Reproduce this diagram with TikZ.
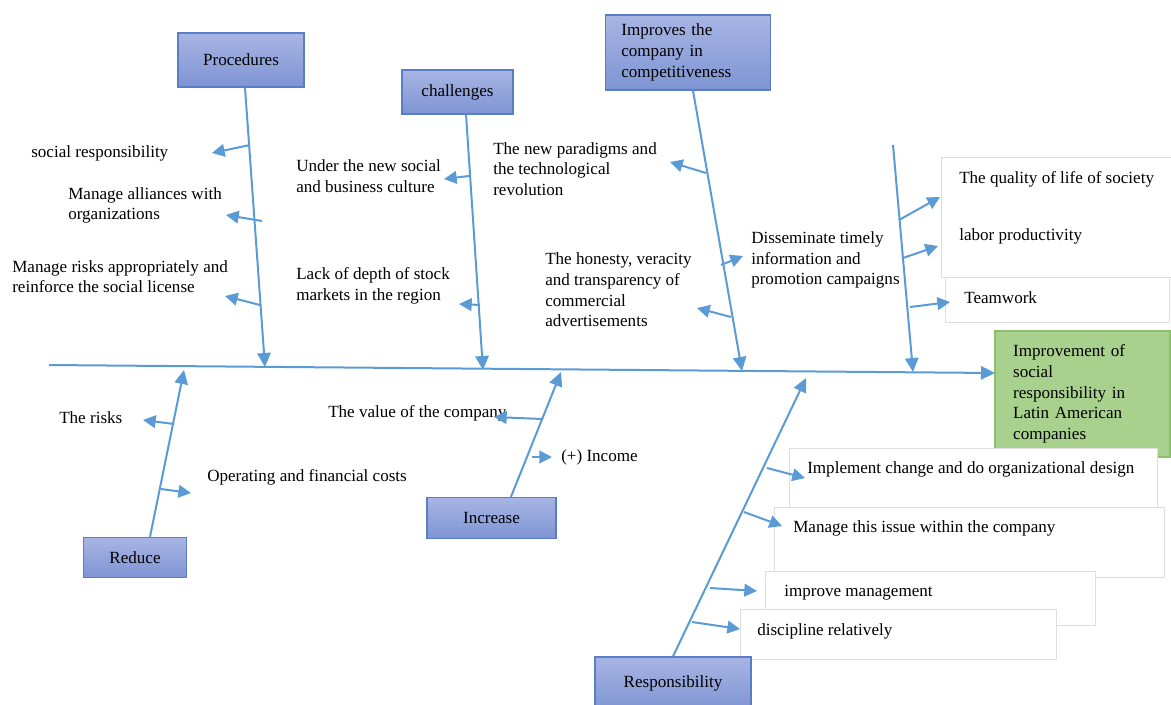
\documentclass[tikz,border=0pt]{standalone}
\usepackage{fontspec}
\setmainfont{Liberation Serif}
\usetikzlibrary{arrows.meta}
\definecolor{bone}{RGB}{91,155,213}
\definecolor{boxtop}{RGB}{168,181,228}
\definecolor{boxbot}{RGB}{126,148,211}
\definecolor{boxline}{RGB}{90,125,200}
\definecolor{effgreen}{RGB}{169,209,142}
\definecolor{effline}{RGB}{140,190,110}
\definecolor{paneline}{RGB}{222,222,222}
\begin{document}
\begin{tikzpicture}[x=0.75pt,y=-0.75pt,
  font=\fontsize{12.8}{15.5}\selectfont,
  catbox/.style={draw=boxline, line width=1pt, top color=boxtop, bottom color=boxbot, inner sep=0pt, align=center},
  lbl/.style={anchor=west, inner sep=0pt, align=left},
  bonel/.style={draw=bone, line width=1.5pt, -{Triangle[length=10.5pt,width=10pt]}},
  branch/.style={draw=bone, line width=1.5pt, -{Triangle[length=9.5pt,width=9.5pt]}},
  panel/.style={draw=paneline, fill=white, line width=0.6pt, inner sep=0pt, anchor=north west}]

\useasboundingbox (0,0) rectangle (1171,704);

% effect box
\node[draw=effline, fill=effgreen, line width=1pt, minimum width=131.25pt, minimum height=94.5pt,
      text width=104pt, align=left, inner sep=0pt] (eff) at (1082.5,394)
      {Improvement of\\social\\responsibility in\\Latin American\\companies};

% panels
\node[panel, minimum width=173pt, minimum height=90pt] (panA) at (941,157) {};
\node[panel, minimum width=168pt, minimum height=33.75pt] (panB) at (945,277) {};
\node[panel, minimum width=276pt, minimum height=44.25pt] (panC) at (789,448) {};
\node[panel, minimum width=292.5pt, minimum height=52.5pt] (panD) at (774,507) {};
\node[panel, minimum width=247.5pt, minimum height=40.5pt] (panE) at (765,571) {};
\node[panel, minimum width=237pt, minimum height=37.5pt] (panF) at (740,609) {};

% category boxes
\node[catbox, minimum width=94.5pt, minimum height=40.5pt] (proc) at (241,60) {Procedures};
\node[catbox, minimum width=83.25pt, minimum height=33pt] (chal) at (457.5,92) {challenges};
\node[catbox, minimum width=123.75pt, minimum height=56.25pt, align=left, text width=100pt] (impr) at (688,52.5)
  {Improves the\\company in\\competitiveness};
\node[catbox, minimum width=77.25pt, minimum height=30pt] (red) at (135,557.5) {Reduce};
\node[catbox, minimum width=96.75pt, minimum height=30.75pt] (inc) at (491.5,518) {Increase};
\node[catbox, minimum width=117pt, minimum height=40pt] (resp) at (673,683.7) {Responsibility};

% labels
\node[lbl] (t1) at (31,153) {social responsibility};
\node[lbl] (t2) at (68,205.5) {Manage alliances with\\organizations};
\node[lbl] (t3) at (12,276.5) {Manage risks appropriately and\\reinforce the social license};
\node[lbl] (t4) at (296,176) {Under the new social\\and business culture};
\node[lbl] (t5) at (296,286) {Lack of depth of stock\\markets in the region};
\node[lbl] (t6) at (493,169) {The new paradigms and\\the technological\\revolution};
\node[lbl] (t7) at (545,290) {The honesty, veracity\\and transparency of\\commercial\\advertisements};
\node[lbl] (t8) at (751,260) {Disseminate timely\\information and\\promotion campaigns};
\node[lbl] (t9) at (959,179) {The quality of life of society};
\node[lbl] (t10) at (959,236) {labor productivity};
\node[lbl] (t11) at (964,298) {Teamwork};
\node[lbl] (t12) at (59,418) {The risks};
\node[lbl] (t13) at (207,477) {Operating and financial costs};
\node[lbl] (t14) at (328,413) {The value of the company};
\node[lbl] (t15) at (561,457) {(+) Income};
\node[lbl] (t16) at (807,469) {Implement change and do organizational design};
\node[lbl] (t17) at (793,528) {Manage this issue within the company};
\node[lbl] (t18) at (784,593) {improve management};
\node[lbl] (t19) at (757,631) {discipline relatively};

% spine
\coordinate (tail) at (49,365);
\coordinate (head) at (995,373);
\draw[bonel] (tail) -- (head);

% bone end points
\coordinate (procT) at (265,367);
\coordinate (chalT) at (483,370);
\coordinate (imprT) at (742,371);
\coordinate (fourS) at (893,145);
\coordinate (fourT) at (913,372);
\coordinate (redT) at (184,370);
\coordinate (incT) at (561,372);
\coordinate (respT) at (806,378);

\draw[bonel] ([xshift=3pt]proc.south) -- (procT);
\draw[bonel] ([xshift=6.4pt]chal.south) -- (chalT);
\draw[bonel] ([xshift=3.75pt]impr.south) -- (imprT);
\draw[bonel] (fourS) -- (fourT);
\draw[bonel] ([xshift=11.25pt]red.north) -- (redT);
\draw[bonel] ([xshift=14.6pt]inc.north) -- (incT);
\draw[bonel] (resp.north) -- (respT);

% branch coordinates
\coordinate (a1s) at (250,145); \coordinate (a1e) at (212,153);
\coordinate (a2s) at (262,221); \coordinate (a2e) at (226,215);
\coordinate (a3s) at (260,305); \coordinate (a3e) at (225,296);
\coordinate (b1s) at (469,176); \coordinate (b1e) at (444,179);
\coordinate (b2s) at (480,305); \coordinate (b2e) at (459,304);
\coordinate (c1s) at (706,173); \coordinate (c1e) at (670,162);
\coordinate (c2s) at (721,265); \coordinate (c2e) at (743,256);
\coordinate (c3s) at (731,317); \coordinate (c3e) at (697,308);
\coordinate (d1s) at (899,220); \coordinate (d1e) at (940,197);
\coordinate (d2s) at (903,258); \coordinate (d2e) at (938,246);
\coordinate (d3s) at (910,307); \coordinate (d3e) at (950,302);
\coordinate (f1s) at (174,424); \coordinate (f1e) at (143,420);
\coordinate (f2s) at (161,489); \coordinate (f2e) at (191,493);
\coordinate (g1s) at (542,419); \coordinate (g1e) at (494,417);
\coordinate (g2s) at (532,457); \coordinate (g2e) at (552,457);
\coordinate (e1s) at (767,468); \coordinate (e1e) at (805,478);
\coordinate (e2s) at (744,512); \coordinate (e2e) at (782,526);
\coordinate (e3s) at (710,588); \coordinate (e3e) at (757,591);
\coordinate (e4s) at (692,622); \coordinate (e4e) at (740,629);

\foreach \b in {a1,a2,a3,b1,b2,c1,c2,c3,d1,d2,d3,f1,f2,g1,g2,e1,e2,e3,e4}
  \draw[branch] (\b s) -- (\b e);
\end{tikzpicture}
\end{document}
